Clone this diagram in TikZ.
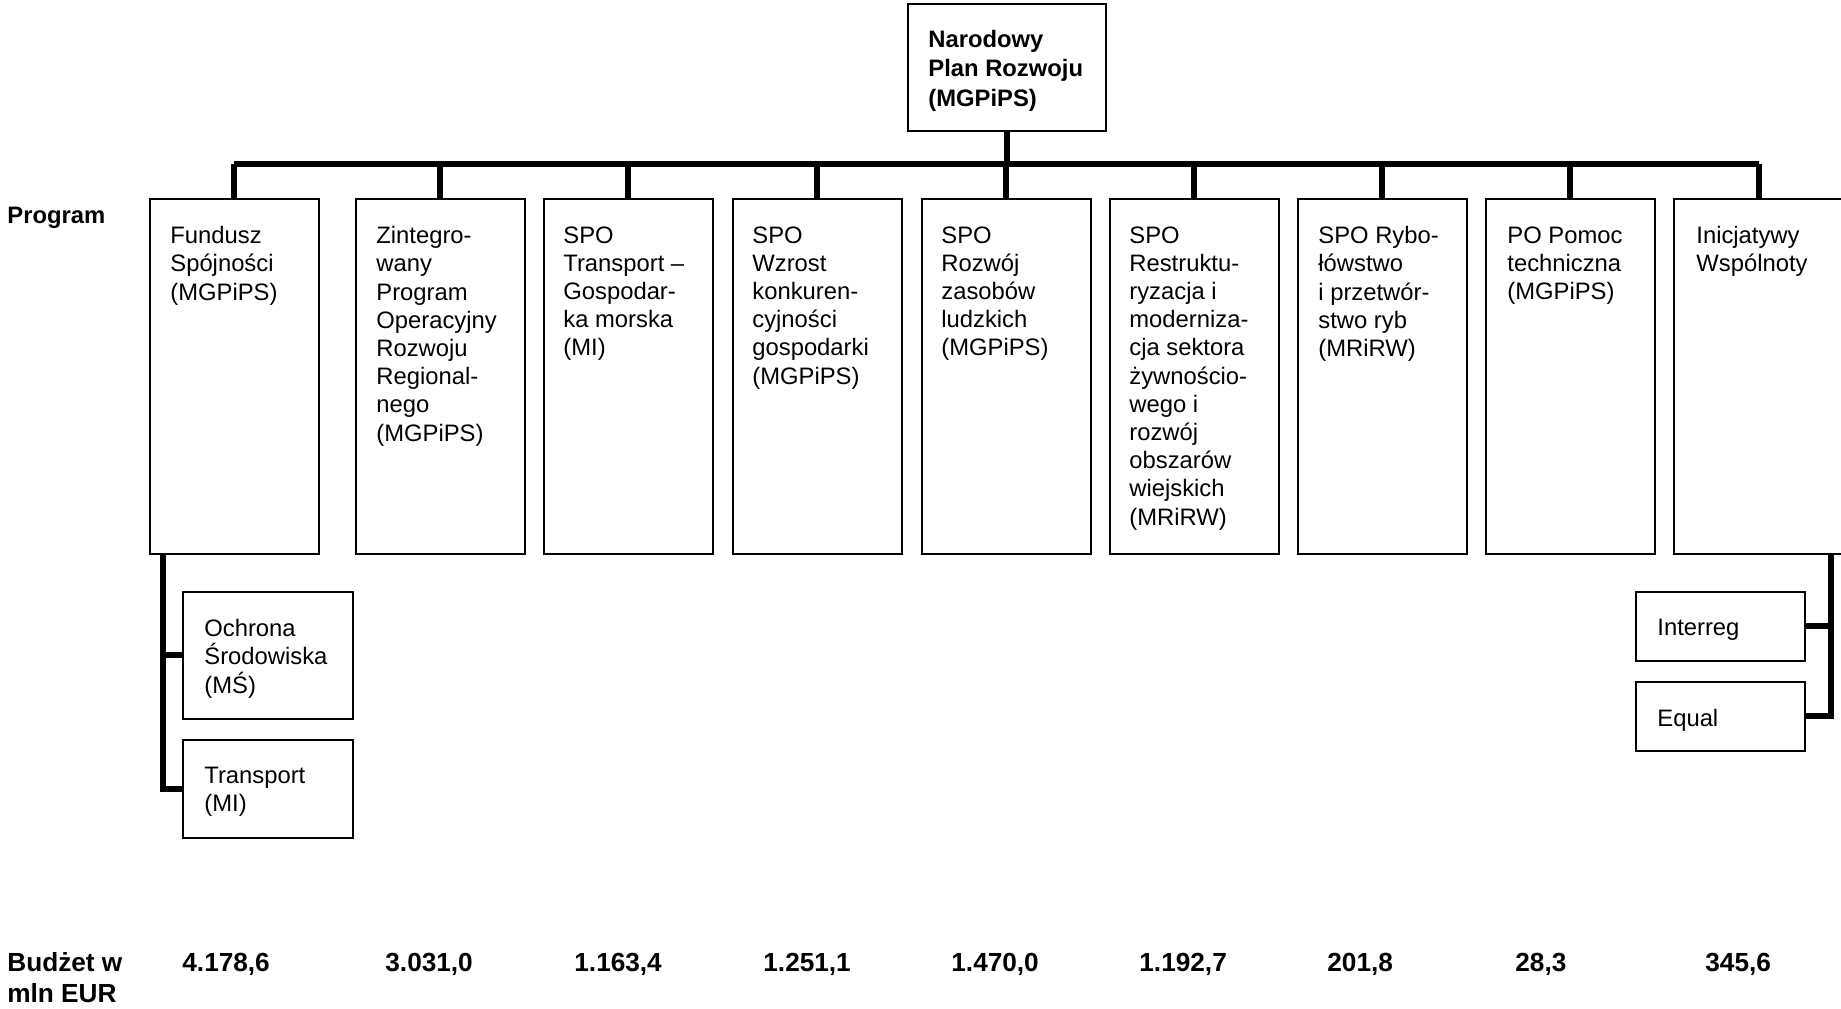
\documentclass[tikz,border=0pt]{standalone}
\usepackage{fontspec}
\setmainfont{Liberation Sans}
\usetikzlibrary{positioning}

\tikzset{
  box/.style={draw, line width=0.8pt, anchor=north west, inner sep=0pt,
    minimum width=84.5pt, minimum height=177.5pt},
  txt/.style={anchor=north west, align=left, inner sep=0pt,
    font=\fontsize{11.9}{14.1}\selectfont},
  hd/.style={anchor=north west, align=left, inner sep=0pt,
    font=\bfseries\fontsize{11.9}{14.6}\selectfont},
  budget/.style={hd, font=\bfseries\fontsize{13.1}{15.3}\selectfont},
  conn/.style={line width=3pt},
}

\begin{document}
\begin{tikzpicture}[x=0.5pt,y=-0.5pt]
        \useasboundingbox (0,0) rectangle (1841,1008);
        % Narodowy Plan Rozwoju
        \node[box, minimum width=99pt, minimum height=63.5pt] (npr) at (907,3) {};
        \node[hd, below right=13.5pt and 10.5pt of npr.north west] (nprt) {Narodowy\\Plan Rozwoju\\(MGPiPS)};
        % programy
        \node[box] (fs) at (149,198) {};
        \node[box] (zporr) at (355,198) {};
        \node[box] (spotgm) at (543,198) {};
        \node[box] (spowkg) at (732,198) {};
        \node[box] (sporzl) at (921,198) {};
        \node[box] (sporr) at (1109,198) {};
        \node[box] (sporyb) at (1297,198) {};
        \node[box] (popt) at (1485,198) {};
        \node[box, minimum width=85pt] (iw) at (1673,198) {};
        \node[txt, below right=14pt and 10.5pt of fs.north west] (fst) {Fundusz\\Spójności\\(MGPiPS)};
        \node[txt, below right=14pt and 10.5pt of zporr.north west] (zporrt) {Zintegro-\\wany\\Program\\Operacyjny\\Rozwoju\\Regional-\\nego\\(MGPiPS)};
        \node[txt, below right=14pt and 10pt of spotgm.north west] (spotgmt) {SPO\\Transport –\\Gospodar-\\ka morska\\(MI)};
        \node[txt, below right=14pt and 10pt of spowkg.north west] (spowkgt) {SPO\\Wzrost\\konkuren-\\cyjności\\gospodarki\\(MGPiPS)};
        \node[txt, below right=14pt and 10pt of sporzl.north west] (sporzlt) {SPO\\Rozwój\\zasobów\\ludzkich\\(MGPiPS)};
        \node[txt, below right=14pt and 10pt of sporr.north west] (sporrt) {SPO\\Restruktu-\\ryzacja i\\moderniza-\\cja sektora\\żywnościo-\\wego i\\rozwój\\obszarów\\wiejskich\\(MRiRW)};
        \node[txt, below right=14pt and 10.5pt of sporyb.north west] (sporybt) {SPO Rybo-\\łówstwo\\i przetwór-\\stwo ryb\\(MRiRW)};
        \node[txt, below right=14pt and 11pt of popt.north west] (poptt) {PO Pomoc\\techniczna\\(MGPiPS)};
        \node[txt, below right=14pt and 11.5pt of iw.north west] (iwt) {Inicjatywy\\Wspólnoty};
        % podprogramy
        \node[box, minimum width=85pt, minimum height=63.5pt] (osr) at (182,591) {};
        \node[box, minimum width=85pt, minimum height=49pt] (trm) at (182,739) {};
        \node[box, minimum height=34.5pt] (intr) at (1635,591) {};
        \node[box, minimum height=34.5pt] (eql) at (1635,681) {};
        \node[txt, below right=14pt and 11pt of osr.north west] (osrt) {Ochrona\\Środowiska\\(MŚ)};
        \node[txt, below right=14pt and 11pt of trm.north west] (trmt) {Transport\\(MI)};
        \node[txt, below right=14pt and 11pt of intr.north west] (intrt) {Interreg};
        \node[txt, below right=14pt and 11pt of eql.north west] (eqlt) {Equal};
        % polaczenia
        \coordinate (bus) at (0,164);
        \draw[conn] (npr.south) -- (npr.south |- bus);
        \draw[conn] (fs.north |- bus) -- (iw.north |- bus);
        \foreach \b in {fs,zporr,spotgm,spowkg,sporzl,sporr,sporyb,popt,iw}
            \draw[conn] (\b.north |- bus) -- (\b.north);
        \coordinate (fsdrop) at ([xshift=7pt]fs.south west);
        \draw[conn] (fsdrop) |- (trm.west);
        \draw[conn] (fsdrop |- osr.west) -- (osr.west);
        \coordinate (iwdrop) at ([xshift=-7pt]iw.south east);
        \draw[conn] (iwdrop) |- (eql.east);
        \draw[conn] (iwdrop |- intr.east) -- (intr.east);
        % opisy
        \node[hd] (prog) at (7,207) {Program};
        \node[budget] (budz) at (7,952) {Budżet w\\mln EUR};
        \node[budget, anchor=base west] (bfs) at (182,971) {4.178,6};
        \node[budget, anchor=base west] (bzporr) at (385,971) {3.031,0};
        \node[budget, anchor=base west] (bspotgm) at (574,971) {1.163,4};
        \node[budget, anchor=base west] (bspowkg) at (763,971) {1.251,1};
        \node[budget, anchor=base west] (bsporzl) at (951,971) {1.470,0};
        \node[budget, anchor=base west] (bsporr) at (1139,971) {1.192,7};
        \node[budget, anchor=base west] (bsporyb) at (1327,971) {201,8};
        \node[budget, anchor=base west] (bpopt) at (1515,971) {28,3};
        \node[budget, anchor=base west] (biw) at (1705,971) {345,6};
    \end{tikzpicture}
\end{document}
